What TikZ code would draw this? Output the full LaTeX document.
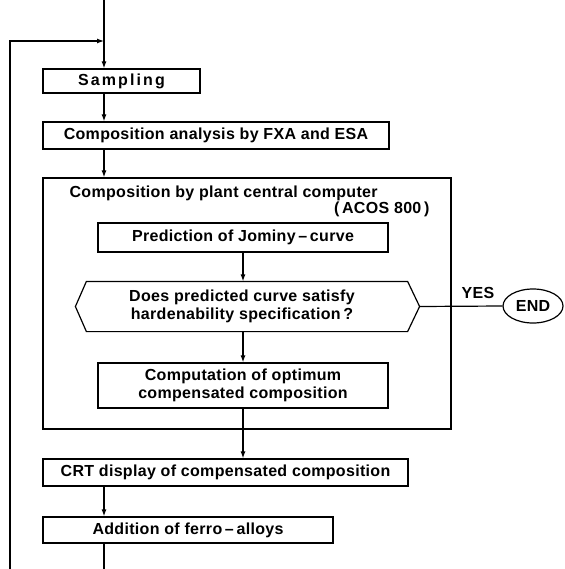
\documentclass[tikz,border=0pt]{standalone}
\usepackage{fontspec}
\setmainfont{Liberation Sans}[LetterSpace=2]
\usetikzlibrary{arrows.meta,shapes.geometric}
\begin{document}
\begin{tikzpicture}[x=1pt,y=-1pt, line width=1.2pt,
  box/.style={draw, rectangle, inner sep=0pt, align=center},
  arr/.style={-{Latex[length=7pt,width=5pt]}},
  txt/.style={font=\fontsize{16}{18}\selectfont\bfseries}]
\useasboundingbox (0,0) rectangle (564,569);
\coordinate (top) at (104,0);
\coordinate (m) at (104,41);
\coordinate (lt) at (10,41);
\coordinate (lb) at (10,569);
\coordinate (bot) at (104,569);
\node[box, txt, minimum width=157pt, minimum height=24pt] (samp) at (121.5,81) {\addfontfeature{LetterSpace=13}Sampling};
\node[box, txt, minimum width=346pt, minimum height=27pt] (anal) at (216,135.5) {Composition analysis by FXA and ESA};
\node[box, minimum width=408pt, minimum height=251pt] (big) at (247,303.5) {};
\node[txt, anchor=base west, inner sep=0pt] (title) at (69,197) {Composition by plant central computer};
\node[txt, anchor=base east, inner sep=0pt] (acos) at (430,213) {(\,ACOS 800\,)};
\node[box, txt, minimum width=290pt, minimum height=29pt] (pred) at (243,237.5) {Prediction of Jominy\,–\,curve};
\node[txt, align=center, inner sep=0pt, minimum width=343pt, minimum height=49pt] (dec) at (242,306.5) {Does predicted curve satisfy\\hardenability specification\,?};
\draw ([xshift=16.5pt]dec.north west) -- ([xshift=-6.5pt]dec.north east) -- ([xshift=5.5pt]dec.east) -- ([xshift=-6.5pt]dec.south east) -- ([xshift=16.5pt]dec.south west) -- ([xshift=5.5pt]dec.west) -- cycle;
\node[draw, ellipse, txt, minimum width=60pt, minimum height=34pt, inner sep=0pt] (end) at (533,306) {END};
\node[txt, inner sep=0pt] (yes) at (478,293) {YES};
\node[box, txt, minimum width=290pt, minimum height=45pt] (comp) at (243,385.5) {Computation of optimum\\compensated composition};
\node[box, txt, minimum width=365pt, minimum height=27pt] (crt) at (225.5,472.5) {CRT display of compensated composition};
\node[box, txt, minimum width=290pt, minimum height=26pt] (add) at (188,530) {Addition of ferro\,–\,alloys};
\draw[arr] (top) -- (top |- samp.north);
\draw[arr] (lb) -- (lt) -- (m);
\draw[arr] (samp.south -| top) -- (anal.north -| top);
\draw[arr] (anal.south -| top) -- (big.north -| top);
\draw[arr] (pred.south) -- (pred.south |- dec.north);
\draw[arr] (pred.south |- dec.south) -- (comp.north);
\draw ([xshift=5.5pt]dec.east) -- (end.west);
\draw[arr] (comp.south) -- (comp.south |- crt.north);
\draw[arr] (crt.south -| top) -- (add.north -| top);
\draw (add.south -| top) -- (bot);
\end{tikzpicture}
\end{document}
